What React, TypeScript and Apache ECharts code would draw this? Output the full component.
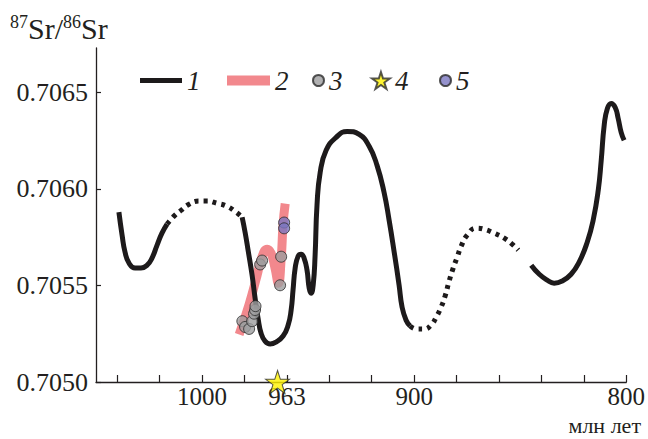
import React, { useEffect, useRef } from "react";
import * as echarts from "echarts";

// Black curve (1): solid and dotted pieces, [age Ma, 87Sr/86Sr]
const curveA: number[][] = [
  [1039.2, 0.70588], [1037.7, 0.705761], [1036.3, 0.705672], [1034.4, 0.705615],
  [1031.6, 0.70559], [1028.8, 0.70559], [1025.9, 0.705605], [1023.6, 0.705642],
  [1021.2, 0.705709], [1018.9, 0.705771], [1016.5, 0.705818],
];
const curveB: number[][] = [
  [1016.5, 0.705818], [1013.2, 0.705859], [1009.9, 0.705889], [1006.1, 0.705921],
  [1001.4, 0.705937], [997.6, 0.705937], [992.9, 0.705926], [988.2, 0.70591],
  [984.0, 0.70588], [981.6, 0.705859],
];
const curveC: number[][] = [
  [981.1, 0.705853], [979.7, 0.705775], [978.3, 0.705683], [976.4, 0.705553],
  [975.0, 0.705434], [973.6, 0.705331], [972.2, 0.705254], [970.3, 0.705212],
  [967.9, 0.705197], [965.1, 0.705207], [961.8, 0.705238], [959.4, 0.705295],
  [958.0, 0.705372], [957.1, 0.705476], [956.1, 0.70559], [954.7, 0.705652],
  [953.3, 0.705662], [951.9, 0.705642], [950.5, 0.705579], [949.5, 0.705486],
  [948.6, 0.70546], [947.6, 0.705502], [946.7, 0.705656], [945.8, 0.705916],
  [944.3, 0.706086], [941.5, 0.7062], [936.8, 0.706267], [931.6, 0.706298],
  [925.9, 0.706282], [921.2, 0.706221], [917.5, 0.706122], [914.2, 0.705983],
  [911.8, 0.705838], [909.4, 0.705672], [907.1, 0.705502], [905.7, 0.705388],
  [903.8, 0.70532], [901.9, 0.70529],
];
const curveD: number[][] = [
  [901.9, 0.70529], [898.6, 0.705274], [895.3, 0.705274], [892.0, 0.705295],
  [889.6, 0.705336], [887.3, 0.705388], [885.4, 0.705445], [883.5, 0.705523],
  [881.6, 0.70559], [879.7, 0.705647], [877.8, 0.705704], [875.0, 0.705761],
  [870.8, 0.705797], [867.0, 0.705791], [862.3, 0.705771], [857.5, 0.705745],
  [853.8, 0.705714], [850.9, 0.705683],
];
const curveE: number[][] = [
  [844.8, 0.705605], [841.0, 0.705558], [837.3, 0.705528], [834.0, 0.705512],
  [830.2, 0.705523], [826.0, 0.705558], [822.2, 0.705621], [818.4, 0.705724],
  [815.6, 0.705838], [813.2, 0.705994], [811.8, 0.706148], [810.4, 0.70633],
  [808.9, 0.706417], [807.1, 0.706443], [805.2, 0.706422], [803.8, 0.706365],
  [802.4, 0.706293], [801.0, 0.706252],
];
// Pink band (2)
const band2: number[][] = [
  [982.5, 0.705246], [977.8, 0.705403], [974.1, 0.70555], [971.7, 0.705649],
  [969.3, 0.705688], [967.5, 0.705668], [965.6, 0.70559], [964.0, 0.705511],
  [962.7, 0.705639], [961.8, 0.705816], [960.8, 0.705924],
];
// Grey points (3)
const points3: number[][] = [
  [981.0, 0.705315], [979.7, 0.705285], [977.8, 0.705275], [976.4, 0.705315],
  [975.5, 0.705354], [975.0, 0.705373], [974.8, 0.705393], [972.6, 0.705609],
  [971.7, 0.705629], [962.7, 0.705649], [963.2, 0.705501],
];
// Star (4)
const star4: number[][] = [[964.4, 0.705]];
// Blue points (5)
const points5: number[][] = [[961.3, 0.705826], [961.3, 0.705796]];

const yTicks = [0.705, 0.7055, 0.706, 0.7065];
const xTicks = [800, 820, 840, 860, 880, 900, 920, 940, 960, 980, 1000, 1020, 1040];
const xLabels = [800, 900, 960, 1000];
const xLabelText: Record<number, string> = { 800: "800", 900: "900", 960: "963", 1000: "1000" };

const STAR =
  "path://M12,0 L14.70,8.29 L23.41,8.29 L16.37,13.42 L19.05,21.71 L12,16.59 L4.95,21.71 L7.63,13.42 L0.59,8.29 L9.30,8.29 Z";
const FONT = '"Liberation Serif", "Times New Roman", "DejaVu Serif", serif';
const TXT = "#231f20";

export default function App() {
  const ref = useRef<HTMLDivElement>(null);
  useEffect(() => {
    if (!ref.current) return;
    const chart = echarts.init(ref.current, undefined, { renderer: "svg" });
    const black = "#1d1a1b";
    const solid = (data: number[][]) => ({
      type: "line", name: "1", data, smooth: 0.5, showSymbol: false,
      symbol: "none", color: black, lineStyle: { color: black, width: 5, cap: "butt" }, z: 3,
    });
    const dotted = (data: number[][]) => ({
      type: "line", name: "1", data, smooth: 0.5, showSymbol: false,
      symbol: "none", color: black,
      lineStyle: { color: black, width: 5, type: [4, 5], cap: "butt" }, z: 3,
    });
    const legText = {
      fontFamily: FONT, fontSize: 27, fontStyle: "italic", color: TXT,
      rich: { t: { fontFamily: FONT, fontSize: 27, fontStyle: "italic", color: TXT } },
    };
    const leg = (name: string, left: number, w: number, h: number, icon: string) => ({
      left, top: 62, itemWidth: w, itemHeight: h, textStyle: legText,
      formatter: "{t|{name}}", data: [{ name, icon }],
    });
    chart.setOption({
      animation: false,
      textStyle: { fontFamily: FONT },
      grid: { left: 96, right: 21, top: 48, bottom: 57 },
      xAxis: {
        type: "value", min: 800, max: 1050, inverse: true,
        axisLine: { lineStyle: { color: "#231f20", width: 1.3 } },
        axisTick: { inside: true, length: 7, customValues: xTicks, lineStyle: { color: "#231f20", width: 1.2 } },
        axisLabel: {
          customValues: xLabels, fontFamily: FONT, fontSize: 25, color: TXT, margin: 2,
          formatter: (v: number) => `{t|${xLabelText[v] ?? String(v)}}`,
          rich: { t: { fontFamily: FONT, fontSize: 25, lineHeight: 25, color: TXT } },
        },
        splitLine: { show: false },
      },
      yAxis: {
        type: "value", min: 0.705, max: 0.70673,
        axisLine: { show: true, lineStyle: { color: "#231f20", width: 1.3 } },
        axisTick: { show: true, inside: true, length: 5, customValues: yTicks, lineStyle: { color: "#231f20", width: 1.2 } },
        axisLabel: {
          customValues: yTicks, fontFamily: FONT, fontSize: 26, color: TXT, margin: 8,
          formatter: (v: number) => `{t|${v.toFixed(4)}}`,
          rich: { t: { fontFamily: FONT, fontSize: 26, color: TXT } },
        },
        splitLine: { show: false },
      },
      legend: [
        leg("1", 135, 42, 5, "rect"),
        leg("2", 222, 43, 10, "rect"),
        leg("3", 307, 11, 11, "circle"),
        leg("4", 366, 18, 17, STAR),
        leg("5", 434, 11, 11, "circle"),
      ],
      graphic: [
        {
          type: "text", left: 10, top: 13,
          style: {
            text: "{s|87}{b|Sr/}{s|86}{b|Sr}", fontFamily: FONT, fontSize: 30, fill: TXT,
            rich: {
              s: { fontFamily: FONT, fontSize: 18, verticalAlign: "top", fill: TXT },
              b: { fontFamily: FONT, fontSize: 30, fill: TXT },
            },
          },
        },
        {
          type: "text", right: 7, top: 414.5,
          style: {
            text: "{b|млн лет}", fontFamily: FONT, fontSize: 22, fill: TXT,
            rich: { b: { fontFamily: FONT, fontSize: 22, lineHeight: 22, fill: TXT } },
          },
        },
      ],
      series: [
        {
          type: "line", name: "2", data: band2, smooth: 0.5,
          showSymbol: false, symbol: "none", color: "#f2888d",
          lineStyle: { color: "#f2888d", width: 9, cap: "butt" }, z: 2,
        },
        solid(curveA), dotted(curveB), solid(curveC), dotted(curveD), solid(curveE),
        {
          type: "scatter", name: "3", data: points3, symbol: "circle", symbolSize: 11,
          itemStyle: { color: "#9d9d9f", borderColor: "#2a2a2a", borderWidth: 1 }, z: 5,
        },
        {
          type: "scatter", name: "5", data: points5, symbol: "circle", symbolSize: 11,
          itemStyle: { color: "#7a77c0", borderColor: "#2a2a2a", borderWidth: 1 }, z: 5,
        },
        {
          type: "scatter", name: "4", data: star4, symbol: STAR, symbolSize: [24, 23], clip: false,
          itemStyle: { color: "#fff200", borderColor: "#2a2a2a", borderWidth: 1 }, z: 6,
        },
      ],
    });
    return () => chart.dispose();
  }, []);
  return (
    <div
      ref={ref}
      style={{ position: "fixed", left: 0, top: 0, width: 648, height: 439, background: "#fff" }}
    />
  );
}
